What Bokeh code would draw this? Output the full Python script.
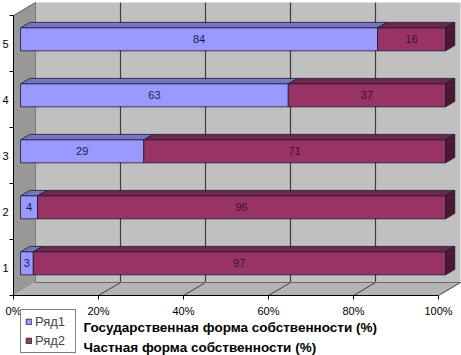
from bokeh.plotting import figure
from bokeh.models import Range1d, FixedTicker, Legend, LegendItem, Label
from bokeh.core.properties import value
from bokeh.embed import file_html
from bokeh.resources import INLINE

# ---------------- data ----------------
categories = ["1", "2", "3", "4", "5"]
state_share = [3, 4, 29, 63, 84]        # Ряд1
private_share = [97, 96, 71, 37, 16]    # Ряд2
x_ticks = [0, 20, 40, 60, 80, 100]
x_tick_labels = ["0%", "20%", "40%", "60%", "80%", "100%"]
series_names = ["Ряд1", "Ряд2"]
series_desc = ["Государственная форма собственности (%)",
               "Частная форма собственности (%)"]

# ---------------- styling / 3-D geometry ----------------
FONT = "Liberation Sans"
BLUE, BLUE_TOP = "#9999FF", "#7575C8"
RED, RED_TOP, RED_END = "#993366", "#712650", "#4C1833"
PX_X, PX_Y = 4.25, 56.0        # pixels per % and per category band
DX, DY = 22 / PX_X, 13 / PX_Y  # depth offset of the back wall
F0, F1 = 0.32, 0.74            # bar front / back depth fraction
BAR_H = 0.41
ncat = len(categories)
X_END = 100 + DX
Y_END = ncat + DY

p = figure(width=461, height=355,
           x_range=Range1d(-13 / PX_X, X_END + 1 / PX_X),
           y_range=Range1d(-60 / PX_Y, Y_END + 2 / PX_Y),
           output_backend="svg", toolbar_location=None,
           min_border_left=0, min_border_right=0, min_border_top=0, min_border_bottom=0,
           background_fill_color="white", border_fill_color="white", outline_line_color=None)
p.styles = {"position": "absolute", "left": "0px", "top": "0px"}
p.grid.visible = False

# x axis (drawn along the front edge of the floor)
xa = p.xaxis[0]
xa.fixed_location = 0
xa.ticker = FixedTicker(ticks=x_ticks, minor_ticks=[])
xa.major_label_overrides = {t: l for t, l in zip(x_ticks, x_tick_labels)}
xa.axis_line_color = None
xa.major_tick_out = 4
xa.major_tick_in = 0
xa.major_tick_line_color = "black"
xa.major_label_standoff = 5
xa.major_label_text_font = FONT
xa.major_label_text_font_size = "11px"
xa.major_label_text_color = "black"

# y axis (front edge of the side wall)
ya = p.yaxis[0]
ya.fixed_location = 0
ya.ticker = FixedTicker(ticks=[i + 0.5 for i in range(ncat)], minor_ticks=list(range(ncat + 1)))
ya.major_label_overrides = {i + 0.5: c for i, c in enumerate(categories)}
ya.axis_line_color = None
ya.major_tick_out = 0
ya.major_tick_in = 0
ya.minor_tick_out = 4
ya.minor_tick_in = 0
ya.minor_tick_line_color = "black"
ya.major_label_standoff = 1
ya.major_label_text_font = FONT
ya.major_label_text_font_size = "11px"
ya.major_label_text_color = "black"

# walls and floor
p.quad(left=DX, right=X_END, bottom=DY, top=Y_END, fill_color="#C0C0C0", line_color=None)
p.patch(x=[0, DX, DX, 0], y=[ncat, Y_END, DY, 0], fill_color="#989898", line_color=None)
p.patch(x=[0, 100, X_END, DX], y=[0, 0, DY, DY], fill_color="#B4B4B4", line_color=None)

grid_x = [t + DX for t in x_ticks[1:-1]]
p.segment(x0=grid_x, y0=[DY] * len(grid_x), x1=grid_x, y1=[Y_END] * len(grid_x),
          line_color="#3C3C3C", line_width=1.2)
p.segment(x0=x_ticks[1:], y0=[0] * 5, x1=[t + DX for t in x_ticks[1:]], y1=[DY] * 5,
          line_color="#3C3C3C", line_width=1)
p.segment(x0=[DX, 0, 0], y0=[DY, 0, ncat], x1=[X_END, 100, DX], y1=[DY, 0, Y_END],
          line_color=["#6A6A6A", "black", "#5A5A5A"], line_width=1)
p.segment(x0=[0, DX], y0=[0, DY], x1=[0, DX], y1=[ncat, Y_END],
          line_color=["black", "#7A7A7A"], line_width=1)

# bars
ox = F0 * DX
oy = F0 * DY
ddx = (F1 - F0) * DX
ddy = (F1 - F0) * DY
yc = [i + 0.5 + oy for i in range(ncat)]
bot = [y - BAR_H / 2 for y in yc]
top = [y + BAR_H / 2 for y in yc]
s1 = [0] * ncat
e1 = list(state_share)
s2 = list(state_share)
e2 = [a + b for a, b in zip(state_share, private_share)]

def top_faces(s, e):
    xs = [[a + ox, a + ox + ddx, b + ox + ddx, b + ox] for a, b in zip(s, e)]
    ys = [[t, t + ddy, t + ddy, t] for t in top]
    return xs, ys

OUT = "#1A1A2A"
xs, ys = top_faces(s1, e1)
p.patches(xs=xs, ys=ys, fill_color=BLUE_TOP, line_color=OUT, line_width=0.8)
xs, ys = top_faces(s2, e2)
p.patches(xs=xs, ys=ys, fill_color=RED_TOP, line_color=OUT, line_width=0.8)

r_blue = p.quad(left=[a + ox for a in s1], right=[b + ox for b in e1], bottom=bot, top=top,
                fill_color=BLUE, line_color=OUT, line_width=0.8)
r_red = p.quad(left=[a + ox for a in s2], right=[b + ox for b in e2], bottom=bot, top=top,
               fill_color=RED, line_color=OUT, line_width=0.8)
end_xs = [[b + ox, b + ox + ddx, b + ox + ddx, b + ox] for b in e2]
end_ys = [[lo, lo + ddy, hi + ddy, hi] for lo, hi in zip(bot, top)]
p.patches(xs=end_xs, ys=end_ys, fill_color=RED_END, line_color=OUT, line_width=0.8)

# value labels
p.text(x=[(a + b) / 2 + ox for a, b in zip(s1, e1)], y=yc, text=[str(v) for v in state_share],
       text_align="center", text_baseline="middle", text_font=value(FONT),
       text_font_size="11px", text_color="#1C1C50")
p.text(x=[(a + b) / 2 + ox for a, b in zip(s2, e2)], y=yc, text=[str(v) for v in private_share],
       text_align="center", text_baseline="middle", text_font=value(FONT),
       text_font_size="11px", text_color="#3A1028")

# legend
legend = Legend(items=[LegendItem(label=series_names[0], renderers=[r_blue]),
                       LegendItem(label=series_names[1], renderers=[r_red])],
                location=(20, 2), orientation="vertical",
                glyph_width=7, glyph_height=7, label_height=13, label_width=36,
                label_standoff=3, spacing=4, padding=4, margin=0,
                label_text_font=FONT, label_text_font_size="13px",
                border_line_color="black", border_line_width=1,
                background_fill_color="white", background_fill_alpha=1)
p.add_layout(legend, "center")

for i, txt in enumerate(series_desc):
    p.add_layout(Label(x=70 / PX_X, y=-(32 + 20 * i) / PX_Y, text=txt, text_font=FONT,
                       text_font_size="13.5px", text_font_style="bold",
                       text_baseline="middle", text_color="black"))

open("out.html", "w").write(file_html(p, INLINE))
